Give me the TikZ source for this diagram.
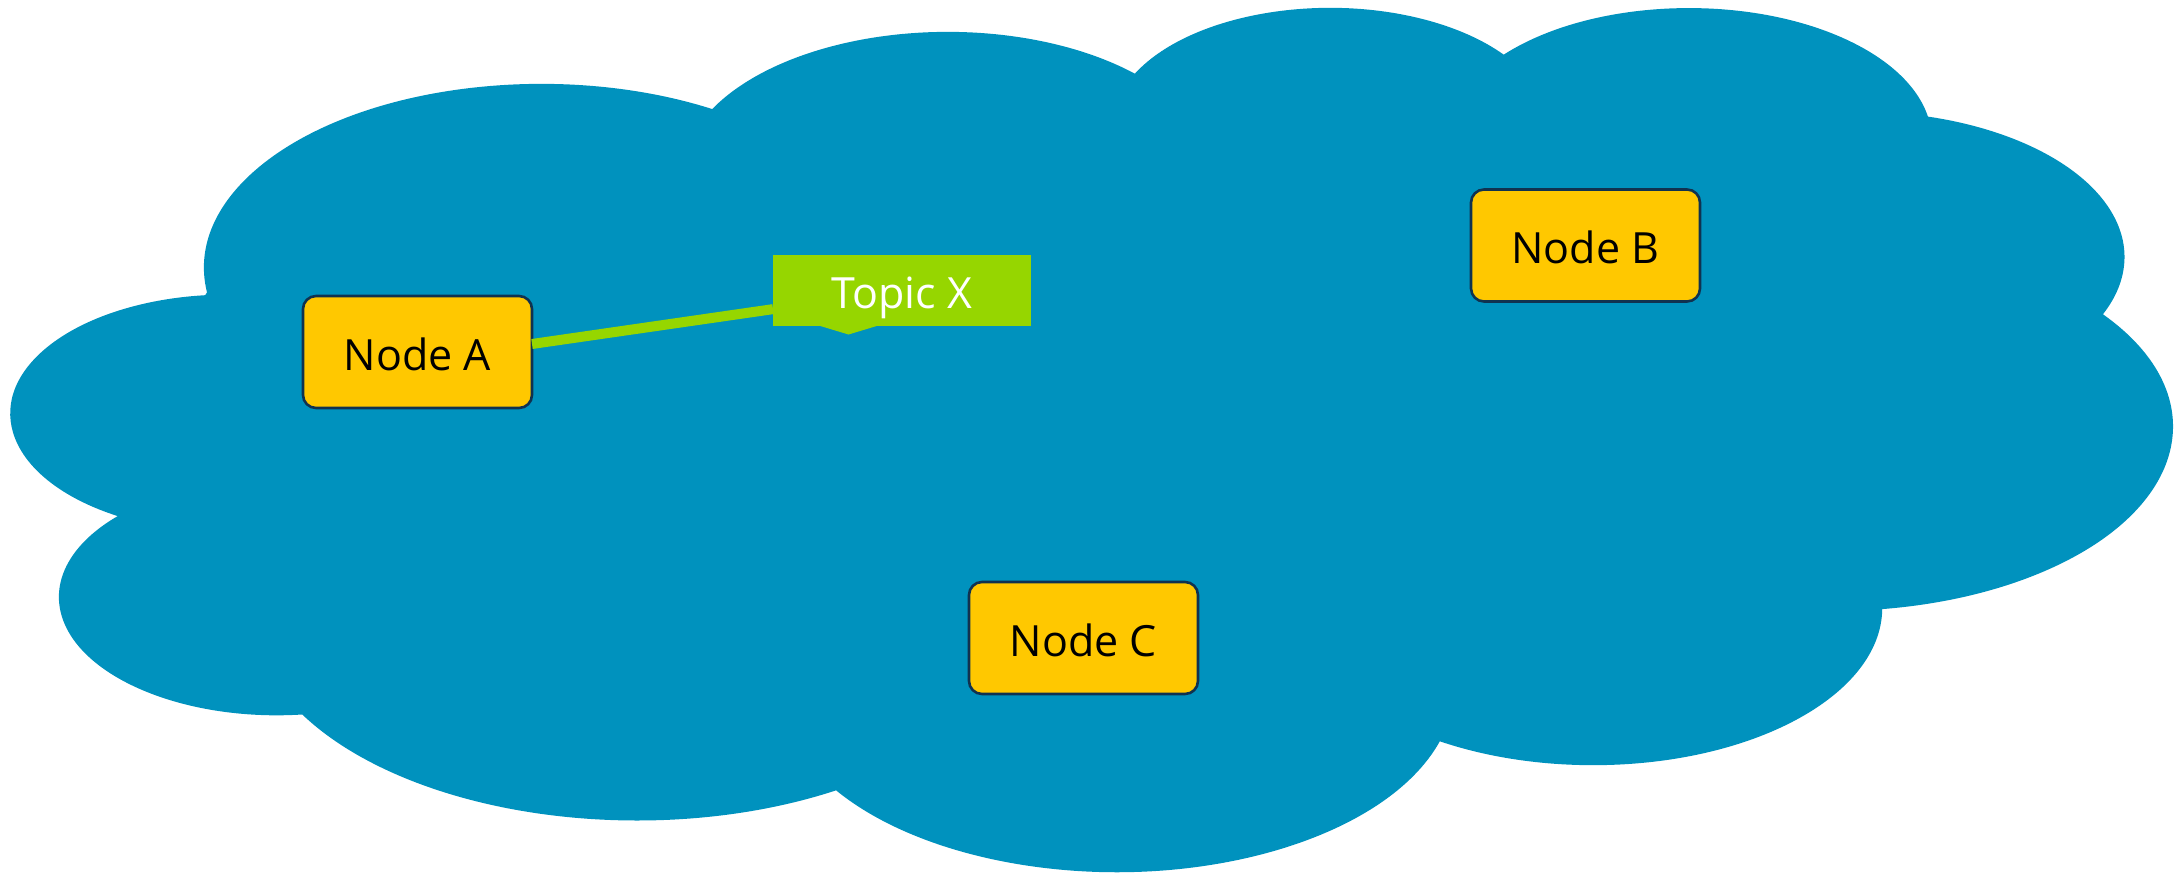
\documentclass[tikz,border=0pt]{standalone}
\usepackage{fontspec}
\setmainfont{Open Sans}
\definecolor{cloudcolor}{RGB}{0,146,190}
\definecolor{nodefillcolor}{RGB}{255,200,0}
\definecolor{nodedrawcolor}{RGB}{16,50,80}
\definecolor{topiccolor}{RGB}{150,214,0}

\begin{document}
\begin{tikzpicture}[
	x=0.5pt, y=-0.5pt,
	box/.style={rectangle, rounded corners=6.5pt, fill=nodefillcolor,
		draw=nodedrawcolor, line width=1.3pt, minimum width=114.5pt,
		minimum height=56pt, inner sep=0pt},
	topicbox/.style={rectangle, fill=topiccolor, text=white,
		minimum width=129pt, minimum height=35.5pt, inner sep=0pt},
	every node/.style={outer sep=0pt, font=\fontsize{21.5}{26}\selectfont,
		text height=18pt, text depth=0pt},
]
\useasboundingbox (0,0) rectangle (2177,873);
% Cloud: eleven puffs, one elliptic arc each.
\begin{scope}[shift={(12,5)}, x=2.5pt, y=-1pt]
	\fill[cloudcolor] (39.00,143.70)
		arc[start angle=172.26, delta angle=128.10, x radius=67.53, y radius=91.90]
		arc[start angle=207.96, delta angle=106.61, x radius=53.33, y radius=72.67]
		arc[start angle=206.51, delta angle=116.17, x radius=43.65, y radius=59.45]
		arc[start angle=220.30, delta angle=129.49, x radius=48.57, y radius=65.95]
		arc[start angle=285.23, delta angle=97.98, x radius=53.33, y radius=72.73]
		arc[start angle=-37.52, delta angle=119.38, x radius=67.75, y radius=92.20]
		arc[start angle=0.46, delta angle=121.52, x radius=57.85, y radius=78.67]
		arc[start angle=16.84, delta angle=129.39, x radius=67.52, y radius=92.15]
		arc[start angle=58.98, delta angle=91.20, x radius=77.20, y radius=105.43]
		arc[start angle=83.31, delta angle=139.79, x radius=43.60, y radius=59.18]
		arc[start angle=120.35, delta angle=143.76, x radius=43.45, y radius=59.45]
		-- cycle;
\end{scope}
	\node[box] (A) at (417.5,352) {Node A};
	\node[box] (B) at (1585.5,245.5) {Node B};
	\node[box] (C) at (1083.5,638) {Node C};
	\node[topicbox] (topicX) at (902,290.5) {Topic X};
	% pointer under the label
	\fill[topiccolor] ([shift={(-85,-1)}]topicX.south) -- ++(31.5,9.5)
		-- ++(31.5,-9.5) -- cycle;
	\draw[topiccolor, line width=5pt] (A.4) -- (topicX);
\end{tikzpicture}
\end{document}
